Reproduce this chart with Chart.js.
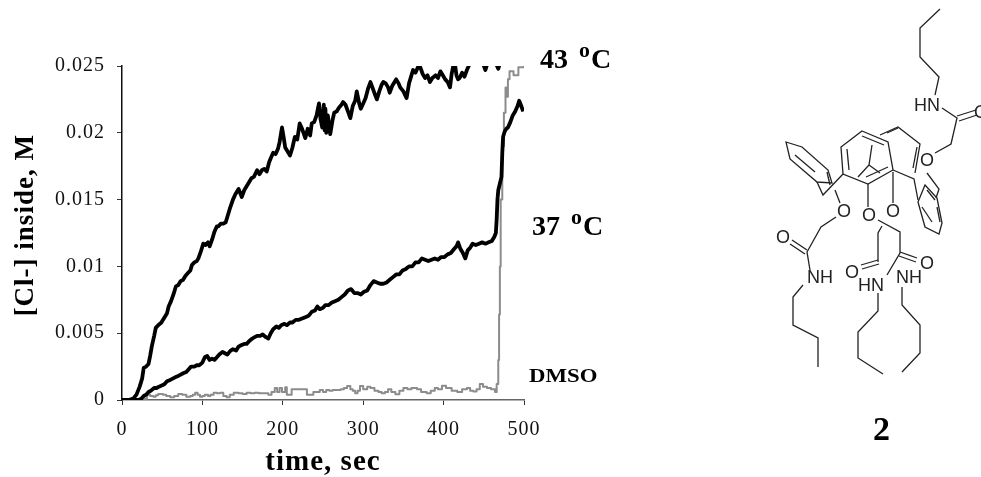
<!DOCTYPE html>
<html>
<head>
<meta charset="utf-8">
<script src="https://cdn.jsdelivr.net/npm/chart.js@4"></script>
<style>
html,body{margin:0;padding:0;background:#fff;width:981px;height:477px;overflow:hidden}
#wrap{position:relative;width:981px;height:477px}
canvas{position:absolute;left:0;top:0}
.lab{position:absolute;font-family:"Liberation Serif",serif;font-weight:bold;color:#000;white-space:nowrap;line-height:1}
.lab sup{font-size:.78em;line-height:0;vertical-align:baseline;position:relative;top:-.5em;margin:0 1px}
svg{position:absolute;left:0;top:0}
svg text{font-family:"Liberation Sans",sans-serif;font-size:18px;fill:#222;text-anchor:middle;dominant-baseline:central}
</style>
</head>
<body>
<div id="wrap">
<canvas id="c" width="981" height="477"></canvas>
<div class="lab" style="left:540px;top:45px;font-size:28px;word-spacing:3px">43 <sup>o</sup>C</div>
<div class="lab" style="left:532px;top:212px;font-size:28px;word-spacing:3px">37 <sup>o</sup>C</div>
<div class="lab" style="left:529px;top:366px;font-size:19px;transform:scaleX(1.2);transform-origin:left">DMSO</div>
<div class="lab" style="left:873px;top:412px;font-size:34px">2</div>
<svg width="981" height="477" fill="none" stroke="#222" stroke-width="1.3">
<polyline points="940,9 920,28 920,57 939,77 935,95"/>
<polyline points="942,108 957,118 951,144 935,153"/>
<line x1="957" y1="116" x2="976" y2="110"/><line x1="959" y1="121" x2="977" y2="115"/>
<polygon points="862,131 888,142 893,170 868,184 843,174 841,147"/>
<line x1="847" y1="149" x2="849" y2="170"/><line x1="862" y1="136" x2="884" y2="145"/><line x1="866" y1="177" x2="888" y2="167"/>
<polyline points="880,135 898,127 920,144 915,173"/>
<line x1="887" y1="133" x2="898" y2="128"/><line x1="917" y1="147" x2="913" y2="168"/>
<polyline points="872,145 869,165 858,177"/><line x1="869" y1="165" x2="880" y2="173"/>
<polyline points="893,170 914,179 918,200"/>
<polygon points="925,185 937,198 942,223 939,234 925,227 918,202"/>
<line x1="927" y1="190" x2="935" y2="200"/><line x1="937" y1="207" x2="940" y2="222"/><line x1="922" y1="207" x2="932" y2="222"/>
<polyline points="927,173 939,189 936,198"/>
<polygon points="786,142 802,147 828,170 832,183 817,182 790,159"/>
<line x1="795" y1="155" x2="815" y2="172"/><line x1="827" y1="172" x2="830" y2="185"/>
<polyline points="817,182 823,195 843,174"/><line x1="835" y1="190" x2="840" y2="203"/>
<line x1="868" y1="184" x2="868" y2="207"/><line x1="893" y1="172" x2="893" y2="203"/>
<polyline points="836,217 821,227 807,252 810,270"/>
<line x1="807" y1="250" x2="792" y2="240"/><line x1="805" y1="254" x2="790" y2="244"/>
<polyline points="803,285 793,297 793,325 818,338 818,367"/>
<polyline points="878,220 900,232 900,253 887,275"/>
<line x1="900" y1="252" x2="917" y2="258"/><line x1="899" y1="256" x2="916" y2="262"/>
<polyline points="902,287 902,305 920,325 920,353 902,372"/>
<polyline points="882,226 878,233 878,262"/>
<line x1="878" y1="260" x2="861" y2="265"/><line x1="879" y1="264" x2="862" y2="269"/>
<polyline points="878,293 878,311 858,332 858,358 883,374"/>
<g stroke="none"><text x="927" y="105">HN</text><text x="981" y="112">O</text><text x="927" y="160">O</text>
<text x="844" y="211">O</text><text x="869" y="215">O</text><text x="893" y="211">O</text>
<text x="783" y="237">O</text><text x="820" y="277">NH</text><text x="927" y="263">O</text><text x="909" y="277">NH</text><text x="852" y="272">O</text><text x="871" y="285">HN</text></g>
</svg>
</div>
<script>
const xTickLabels = [0,100,200,300,400,500];
const yTickLabels = ['0','0.005','0.01','0.015','0.02','0.025'];

const time43 = [
0,8,14,18,22,25,27,30,33,35,
37,40,42,45,49,51,53,56,58,61,
64,67,70,73,76,79,82,85,87,90,
93,95,98,101,104,107,109,112,115,118,
120,123,126,129,131,134,138,141,145,147,
149,152,155,158,161,164,168,171,174,177,
180,183,185,188,191,194,196,199,201,203,
206,209,212,215,218,221,224,228,231,234,
236,239,242,245,247,249,251,252,253,254,
256,259,262,264,267,270,273,275,278,281,
284,287,290,292,295,297,300,303,306,309,
312,315,317,320,323,325,328,331,333,336,
339,341,344,346,350,354,357,360,362,365,
368,371,374,377,380,383,386,390,393,396,
399,402,405,408,410,412,414,416,418,420,
423,426,429,432,436,440,445,449,452,455,
458,462,465,468,471,480,490,500];
const conc43 = [
0,0,.0001,.0004,.0010,.0016,.0024,.0025,.0027,.0033,
.0040,.0048,.0054,.0056,.0058,.0060,.0062,.0065,.0070,.0074,
.0079,.0085,.0086,.0089,.0090,.0093,.0095,.0097,.0101,.0103,
.0104,.0106,.0111,.0117,.0116,.0118,.0115,.0120,.0126,.0130,
.0130,.0132,.0132,.0133,.0137,.0143,.0150,.0154,.0158,.0155,
.0152,.0157,.0160,.0163,.0166,.0167,.0172,.0169,.0172,.0173,
.0171,.0178,.0181,.0185,.0184,.0188,.0193,.0204,.0197,.0189,
.0186,.0183,.0189,.0197,.0195,.0207,.0203,.0196,.0203,.0198,
.0207,.0208,.0213,.0222,.0210,.0204,.0221,.0202,.0218,.0200,
.0213,.0199,.0210,.0215,.0216,.0219,.0221,.0223,.0221,.0216,
.0211,.0220,.0224,.0231,.0222,.0218,.0222,.0226,.0233,.0238,
.0233,.0228,.0225,.0231,.0236,.0238,.0237,.0234,.0230,.0235,
.0238,.0240,.0237,.0234,.0231,.0226,.0237,.0243,.0247,.0245,
.0249,.0249,.0244,.0241,.0243,.0238,.0241,.0243,.0241,.0246,
.0243,.0240,.0238,.0234,.0244,.0250,.0252,.0243,.0240,.0241,
.0245,.0242,.0247,.0251,.0254,.0255,.0254,.0252,.0247,.0253,
.0255,.0254,.0252,.0248,.0254,.0256,.0257,.0257];

const time37 = [
0,15,20,24,27,30,33,36,40,43,
46,50,53,56,60,63,66,70,73,76,
80,83,86,90,93,96,100,103,106,109,
112,115,118,121,125,128,131,135,138,142,
145,148,152,155,158,162,165,168,172,175,
179,182,185,188,192,195,198,202,205,209,
212,216,220,224,228,232,236,240,243,246,
250,253,257,261,265,269,273,277,281,285,
289,293,297,301,305,309,313,317,321,325,
329,333,337,341,345,349,353,357,361,365,
369,373,377,381,385,389,393,397,401,405,
409,413,416,418,421,424,427,430,433,436,
440,444,448,452,456,460,463,465,466,467,
468,470,472,473,474,476,478,480,483,486,
489,492,494,496,499];
const conc37 = [
0,0,0,.0001,.0003,.0004,.0006,.0007,.0009,.0009,
.0010,.0011,.0012,.0014,.0015,.0016,.0017,.0018,.0019,.0020,
.0021,.0023,.0025,.0025,.0026,.0026,.0028,.0032,.0033,.0030,
.0031,.0030,.0032,.0034,.0036,.0035,.0034,.0037,.0038,.0037,
.0040,.0041,.0042,.0042,.0044,.0046,.0047,.0048,.0048,.0049,
.0047,.0046,.0050,.0053,.0055,.0054,.0056,.0057,.0056,.0058,
.0058,.0060,.0060,.0061,.0062,.0063,.0066,.0067,.0070,.0068,
.0069,.0071,.0071,.0073,.0074,.0075,.0077,.0079,.0082,.0083,
.0080,.0080,.0079,.0081,.0082,.0086,.0089,.0088,.0087,.0087,
.0088,.0090,.0092,.0094,.0094,.0097,.0098,.0100,.0100,.0103,
.0103,.0106,.0105,.0104,.0105,.0106,.0105,.0107,.0107,.0109,
.0110,.0113,.0115,.0118,.0113,.0110,.0106,.0112,.0114,.0117,
.0116,.0117,.0118,.0117,.0118,.0119,.0122,.0125,.0135,.0150,
.0157,.0162,.0167,.0185,.0197,.0201,.0203,.0204,.0208,.0213,
.0216,.0220,.0224,.0221,.0216];

const timeDmso = [
0,25,28,31,35,39,42,45,48,51,
55,60,65,70,75,80,85,88,91,94,
97,100,103,107,110,114,118,122,126,130,
134,139,145,150,155,160,165,170,176,182,
186,190,193,196,199,203,205,208,211,216,
224,227,230,234,238,242,246,250,254,258,
262,267,272,276,280,284,287,290,293,296,
300,305,309,314,319,323,327,331,335,340,
345,350,355,360,367,372,379,384,389,393,
398,403,410,417,423,429,433,437,441,445,
449,454,459,464,466,468,469,470,471,473,
475,477,478,480,482,487,493,500];
const concDmso = [
0,0,.0001,.0004,.0003,.00025,.00035,.00045,.00045,.0004,
.0003,.0002,.0003,.00045,.0004,.00025,.0003,.0004,.00055,.0004,
.00025,.0003,.0004,.0003,.0004,.00055,.0005,.00055,.0003,.0002,
.0004,.00055,.0005,.00045,.00055,.0005,.00055,.0005,.0005,.0004,
.0006,.0009,.0006,.0009,.0006,.00095,.0004,.0004,.0008,.0008,
.0008,.0008,.0004,.0004,.0006,.0006,.00075,.0006,.00075,.0007,
.00075,.00075,.0008,.0009,.00105,.0008,.0007,.0005,.0007,.00105,
.0008,.0010,.0009,.0007,.0006,.0005,.0006,.0008,.0006,.00043,
.0007,.0009,.0008,.0009,.0008,.0006,.0005,.0007,.0009,.0008,
.00107,.0009,.0007,.0006,.0008,.0009,.0007,.00063,.0008,.0012,
.0010,.0009,.0008,.0006,.0012,.0030,.0064,.0100,.0150,.0190,
.0215,.0234,.0227,.0240,.0246,.0243,.0249,.0251];

const pairs = (xs, ys) => xs.map((x, i) => ({x, y: ys[i]}));
const spacing = {id:'spacing', beforeDraw(c){ c.ctx.letterSpacing = '1px'; }};
const axisColor = '#333';
const serif = '"Liberation Serif", serif';

new Chart(document.getElementById('c'), {
  type: 'scatter',
  plugins: [spacing],
  data: { datasets: [
    {label:'43 oC', data:pairs(time43,conc43), borderColor:'#000', borderWidth:3.8, order:3},
    {label:'DMSO', data:pairs(timeDmso,concDmso), borderColor:'#8c8c8c', borderWidth:2, stepped:true, order:2},
    {label:'37 oC', data:pairs(time37,conc37), borderColor:'#000', borderWidth:3.8, order:1}
  ].map(d => Object.assign(d,{showLine:true, pointRadius:0, tension:0, clip:0, borderJoinStyle:'round', fill:false})) },
  options: {
    responsive:false, animation:false, events:[],
    layout:{padding:{left:0,top:66,right:457,bottom:0}},
    plugins:{legend:{display:false}, tooltip:{enabled:false}},
    scales:{
      x:{type:'linear', min:0, max:500,
        afterFit(s){ s.height = 77; },
        afterBuildTicks(s){ s.ticks = xTickLabels.map(v => ({value:v})); },
        grid:{drawOnChartArea:false, tickLength:5, color:axisColor, lineWidth:1},
        border:{color:'#666', width:1.5},
        ticks:{maxRotation:0, padding:13, color:'#111', font:{family:serif,size:20}, callback:v => String(v)},
        title:{display:true, text:'time, sec', color:'#000', padding:0, font:{family:serif,size:29,weight:'bold',lineHeight:1}}
      },
      y:{type:'linear', min:0, max:.025,
        afterFit(s){ s.width = 122; },
        afterBuildTicks(s){ s.ticks = yTickLabels.map(v => ({value:Number(v)})); },
        grid:{drawOnChartArea:false, tickLength:5, color:axisColor, lineWidth:1},
        border:{color:'#111', width:1.5},
        ticks:{padding:12, color:'#111', font:{family:serif,size:20}, callback:v => String(Number(v.toFixed(3)))},
        title:{display:true, text:'  [Cl-] inside, M', color:'#000', padding:{top:10,bottom:0}, font:{family:serif,size:27,weight:'bold'}}
      }
    }
  }
});
</script>
</body>
</html>
